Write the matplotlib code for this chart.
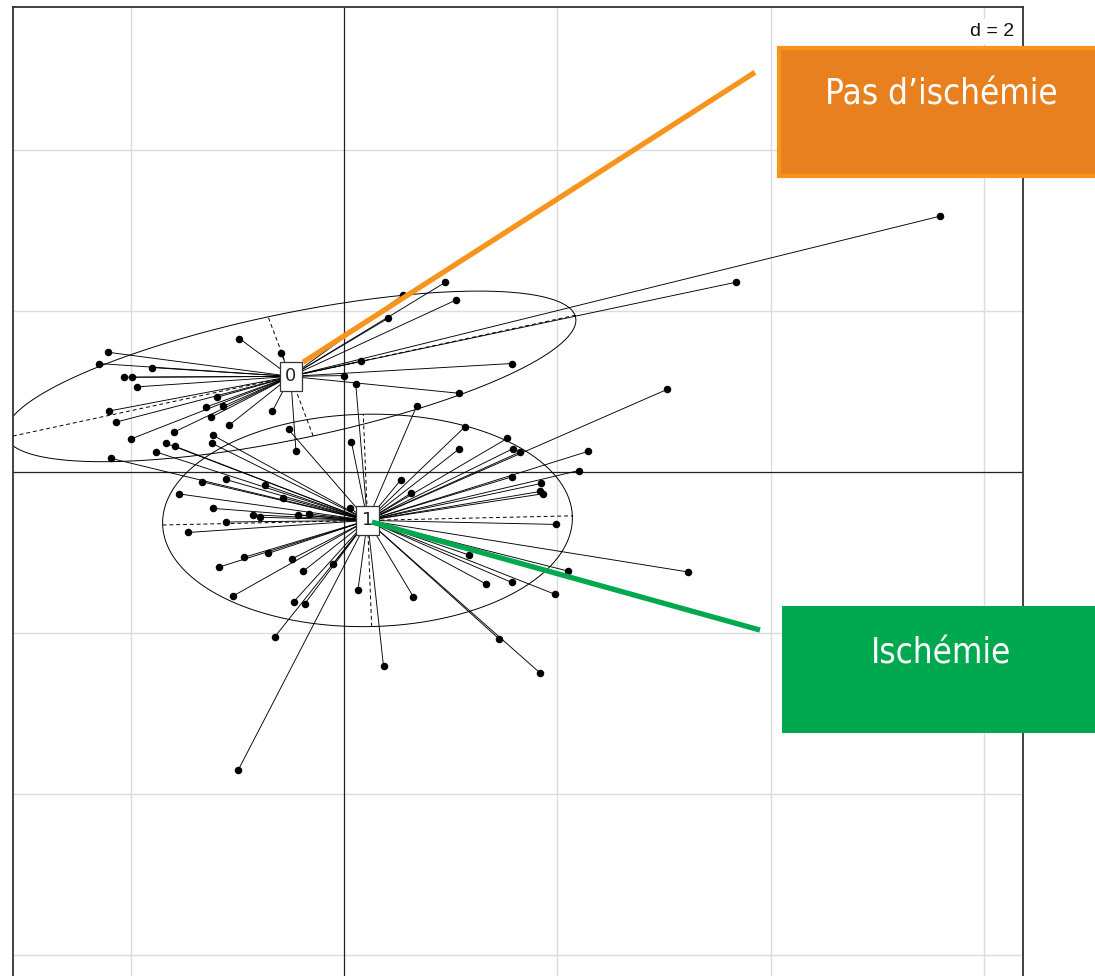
import numpy as np
import matplotlib
matplotlib.use("Agg")
import matplotlib.pyplot as plt
from matplotlib.patches import Rectangle

# individuals of class "0" (pas d'ischemie)
g0_x = [-0.98, -0.59, -2.21, -2.30, -1.80, -2.06, -1.99, -1.94, -1.19, -2.20,
        -1.29, -1.13, -2.14, -1.25, -0.67, -1.08, -1.59, -2.00, -0.45, 0.95,
        1.05, 0.41, 0.55, 0.16, 0.00, 1.08, 1.57, 5.58, 3.67]
g0_y = [1.66, 1.48, 1.49, 1.35, 1.30, 1.18, 1.18, 1.06, 0.93, 0.76,
        0.81, 0.82, 0.62, 0.68, 0.76, 0.58, 0.50, 0.41, 0.26, 2.36,
        2.14, 1.91, 2.20, 1.38, 1.20, 0.98, 1.35, 3.18, 2.36]

# individuals of class "1" (ischemie)
g1_x = [-1.33, -1.11, -0.74, -0.57, -1.55, -1.23, -0.85, -0.79, -0.43, -0.33,
        -1.11, -1.46, 0.06, -1.17, -0.94, -0.71, -0.49, -0.38, -1.04, -0.47,
        -0.37, -0.10, 0.13, -0.65, -0.99, 0.37, 0.65, 1.45, 1.84, 1.33,
        1.57, 1.98, 1.17, 2.10, 1.99, 3.22, 0.07, 0.11, -0.52, -2.18,
        -1.76, -1.58, -1.67, -1.23, -1.24, 0.68, 1.13, 1.53, 1.08, 1.58,
        1.65, 2.29, 2.20, 0.53, 0.63, 1.57, 1.85, 1.84, 1.86, 3.03]
g1_y = [-0.12, -0.09, -0.16, -0.32, -0.27, -0.45, -0.53, -0.56, -0.53, -0.52,
        -0.62, -0.75, -0.45, -1.18, -1.06, -1.01, -1.08, -1.23, -1.54, -1.61,
        -1.64, -1.14, -1.47, -2.05, -3.70, -2.41, -1.55, -2.07, -2.50, -1.39,
        -1.37, -1.52, -1.03, -1.23, -0.65, -1.24, 0.37, 1.09, 0.53, 0.17,
        0.25, 0.32, 0.36, 0.46, 0.36, 0.82, 0.56, 0.42, 0.29, 0.29,
        0.25, 0.26, 0.02, -0.10, -0.26, -0.06, -0.14, -0.24, -0.27, 1.03]

class_labels = ["0", "1"]
cent_x = [-0.50, 0.22]
cent_y = [1.19, -0.60]
# ellipse half axes and angle (degrees)
ell_a = [2.77, 1.92]
ell_b = [0.77, 1.32]
ell_ang = [15.9, 1.7]

groups = [(g0_x, g0_y), (g1_x, g1_y)]

fig = plt.figure(figsize=(10.95, 9.76), dpi=100)
ax = fig.add_axes([13 / 1095, -0.0113, 1010 / 1095, 1.004])
ax.set_xlim(-3.101, 6.361)
ax.set_ylim(-6.4, 5.78)

for v in [-2, 2, 4, 6]:
    ax.axvline(v, color="#dcdcdc", lw=1.0, zorder=0)
for v in [-6, -4, -2, 2, 4]:
    ax.axhline(v, color="#dcdcdc", lw=1.0, zorder=0)
ax.axvline(0, color="#222222", lw=0.9, zorder=1)
ax.axhline(0, color="#222222", lw=0.9, zorder=1)

t = np.linspace(0, 2 * np.pi, 300)
for k, (gx, gy) in enumerate(groups):
    cx, cy = cent_x[k], cent_y[k]
    for px, py in zip(gx, gy):
        ax.plot([cx, px], [cy, py], color="black", lw=0.65, zorder=2)
    ax.plot(gx, gy, "o", color="black", ms=4.4, zorder=3)
    th = np.radians(ell_ang[k])
    a, b = ell_a[k], ell_b[k]
    ex = cx + a * np.cos(t) * np.cos(th) - b * np.sin(t) * np.sin(th)
    ey = cy + a * np.cos(t) * np.sin(th) + b * np.sin(t) * np.cos(th)
    ax.plot(ex, ey, color="black", lw=0.7, zorder=2)
    ax.plot([cx - a * np.cos(th), cx + a * np.cos(th)],
            [cy - a * np.sin(th), cy + a * np.sin(th)],
            color="black", lw=0.7, ls=(0, (4, 3)), zorder=2)
    ax.plot([cx + b * np.sin(th), cx - b * np.sin(th)],
            [cy - b * np.cos(th), cy + b * np.cos(th)],
            color="black", lw=0.7, ls=(0, (4, 3)), zorder=2)
    ax.text(cx, cy, class_labels[k], ha="center", va="center", fontsize=13,
            color="#222222", zorder=5,
            bbox=dict(boxstyle="square,pad=0.3", fc="white", ec="#333333", lw=0.9))

ax.text(0.991, 0.984, "d = 2", transform=ax.transAxes, ha="right", va="top",
        fontsize=14, family=["Liberation Sans", "DejaVu Sans"], color="#111111",
        zorder=6, bbox=dict(boxstyle="square,pad=0.2", fc="white", ec="none"))

ax.set_xticks([])
ax.set_yticks([])
for s in ax.spines.values():
    s.set_color("#333333")
    s.set_linewidth(1.3)

# callout lines
ax.plot([-0.384, 3.85], [1.366, 4.97], color="#F7941D", lw=3.8,
        solid_capstyle="butt", zorder=7, clip_on=False)
ax.plot([0.262, 3.897], [-0.621, -1.963], color="#00A84F", lw=3.8,
        solid_capstyle="butt", zorder=7, clip_on=False)

# callout boxes
fig.patches.append(Rectangle((779 / 1095, 0.8197), 0.30, 0.1311, transform=fig.transFigure,
                             fc="#E9801F", ec="#F7941D", lw=3, zorder=8))
fig.patches.append(Rectangle((782 / 1095, 0.249), 0.30, 0.130, transform=fig.transFigure,
                             fc="#00A84F", ec="none", zorder=8))
fig.text(0.8594, 0.9027, "Pas d\u2019ischémie", ha="center", va="center",
         fontsize=25, color="white", family="DejaVu Sans", fontstretch="condensed",
         zorder=9)
fig.text(0.8594, 0.3309, "Ischémie", ha="center", va="center",
         fontsize=25, color="white", family="DejaVu Sans", fontstretch="condensed",
         zorder=9)

fig.savefig("out.png", dpi=100)
